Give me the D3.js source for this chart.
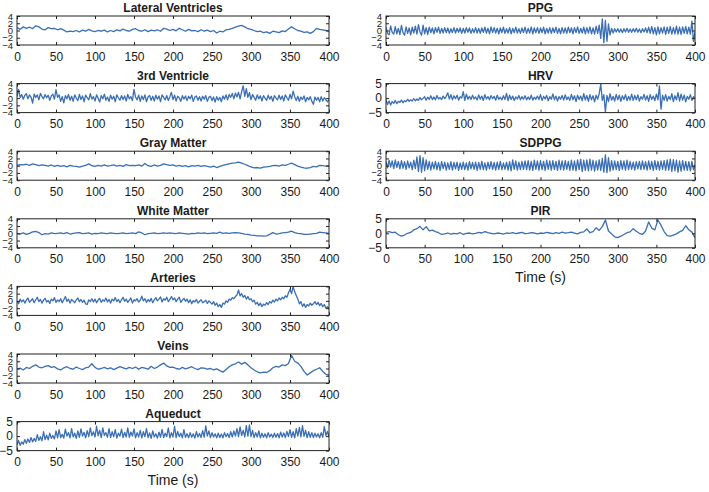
<!DOCTYPE html>
<html>
<head>
<meta charset="utf-8">
<script src="https://cdn.jsdelivr.net/npm/d3@7"></script>
<style>
  body { margin: 0; background: #fff; }
  svg text { font-family: "Liberation Sans", Arial, Helvetica, sans-serif; fill: #1a1a1a; }
</style>
</head>
<body>
<div id="chart"></div>
<script>
// x axis ticks shared by every panel
var xTicks = [0, 50, 100, 150, 200, 250, 300, 350, 400];
var yTicks4 = [-4, -2, 0, 2, 4];
var yTicks5 = [-5, 0, 5];

// ---- signals ----
// 101 samples (every 4 s)
var lateralVentricles = [0.8,0.3,1.0,0.6,0.9,0.5,1.3,1.0,0.4,0.2,
  0.8,0.5,0.6,0.2,0.5,0.1,-0.4,-0.2,-0.3,0.0,
  -0.4,0.1,-0.2,0.3,-0.1,-0.3,0.0,-0.2,0.1,-0.4,
  0.0,-0.3,0.2,-0.1,0.4,0.0,-0.2,0.3,0.5,0.0,
  -0.2,0.2,-0.3,0.1,-0.1,0.2,-0.2,0.6,0.4,0.0,
  0.3,-0.1,0.6,0.2,-0.2,0.3,-0.1,0.0,-0.3,0.2,
  -0.2,0.1,-0.3,0.0,-0.7,-0.2,-0.4,0.2,0.3,0.6,
  0.9,1.2,1.4,1.0,0.5,0.3,0.0,-0.3,-0.2,-0.6,
  -0.4,-0.8,-0.2,-0.4,-0.6,-0.1,-0.3,0.4,1.0,0.5,
  0.0,-0.2,-0.5,-0.4,-0.8,-0.3,0.6,0.3,0.2,0.0,
  -0.1];

// 201 samples (every 2 s)
var thirdVentricle = [0.5,2.4,0.2,1.0,-0.3,0.8,1.2,-0.2,0.9,0.3,
  -1.4,1.1,0.2,0.9,-0.5,1.3,0.4,-0.2,1.0,0.1,
  0.8,-0.6,0.6,1.1,-0.3,2.3,0.2,0.9,-0.9,0.4,
  -1.3,0.7,-0.2,1.0,-0.6,0.5,-0.9,0.9,0.0,-0.7,
  1.0,-0.4,0.6,-1.0,0.8,0.1,-0.5,1.2,-0.3,0.4,
  -0.8,0.9,0.0,-1.1,0.7,-0.2,1.1,-0.6,0.3,-0.9,
  0.8,-0.3,0.5,-1.0,0.9,0.1,-0.6,0.7,-0.4,0.6,
  -0.8,1.0,-0.2,0.4,-0.7,2.4,0.3,-0.5,0.8,-0.9,
  0.6,-0.4,0.9,-1.0,0.3,0.7,-0.6,0.5,-0.8,0.8,
  -0.3,0.6,-1.0,0.9,0.2,-0.5,0.7,-0.7,0.4,1.6,
  -0.4,0.8,-0.8,0.5,0.1,-0.9,0.7,-0.3,0.6,-0.7,
  0.5,-0.2,0.8,-0.9,0.3,0.6,-0.6,0.4,-0.8,0.5,
  -0.3,0.7,-0.9,0.2,0.5,-0.7,0.3,-1.1,0.4,-0.6,
  0.2,-1.0,0.6,-0.3,0.9,-0.5,1.0,0.2,1.3,-0.2,
  1.4,0.3,1.6,-0.2,1.8,3.4,0.5,2.6,0.2,1.5,
  -0.4,1.0,0.2,-0.6,0.9,-0.2,0.6,-0.8,0.7,0.0,
  -0.6,0.8,-0.3,0.5,-0.9,0.7,0.0,-0.5,0.8,-0.4,
  0.6,-0.8,0.9,0.1,-0.6,1.0,-0.2,1.9,0.4,-0.7,
  0.5,-0.9,0.3,-0.4,0.6,-1.0,0.2,-0.5,0.4,-0.9,
  -1.7,0.3,-0.6,0.2,-1.0,0.4,-0.8,0.1,-0.5,-1.0,
  -0.4];

var grayMatter = [0.1,0.3,0.2,0.4,0.1,0.5,0.3,0.0,0.2,0.1,
  -0.1,0.2,-0.2,0.1,-0.2,0.0,-0.3,0.1,-0.1,-0.2,
  -0.4,-0.1,0.1,0.5,0.0,-0.2,0.1,-0.1,0.2,-0.1,
  0.0,0.2,-0.1,0.1,-0.2,0.3,0.0,0.1,0.0,0.2,
  -0.1,0.6,0.0,-0.2,0.2,-0.1,0.1,0.5,0.3,0.1,
  0.2,-0.1,0.1,-0.2,0.0,-0.3,0.0,-0.1,0.1,-0.2,
  0.0,-0.2,-0.4,-0.1,-0.5,-0.2,0.1,0.3,0.5,0.7,
  0.8,1.0,0.7,0.4,0.0,-0.3,-0.6,-0.5,-0.7,-0.4,
  -0.3,-0.2,0.0,0.1,-0.1,0.2,0.1,0.4,0.7,0.3,
  -0.1,-0.4,-0.6,-0.7,-0.5,-0.2,-0.3,0.1,0.0,-0.1,
  0.0];

var whiteMatter = [0.0,-0.2,0.1,-0.3,0.0,0.4,0.5,0.2,-0.4,-0.1,
  -0.2,0.1,-0.1,0.0,0.1,-0.1,0.2,-0.2,0.0,0.1,
  0.2,-0.1,0.0,0.1,-0.2,0.0,-0.1,0.1,0.0,-0.1,
  0.1,0.0,-0.1,0.0,0.1,-0.1,0.0,0.1,-0.1,0.4,
  0.1,-0.4,-0.1,0.0,0.1,-0.1,0.0,0.1,0.0,0.1,
  0.0,-0.1,0.1,0.0,-0.1,-0.2,0.0,-0.1,0.1,0.0,
  0.1,-0.1,0.0,0.1,0.0,0.3,0.0,0.1,0.0,0.1,
  0.2,0.1,0.0,-0.2,-0.3,-0.5,-0.6,-0.7,-0.7,-0.8,
  -0.7,-0.3,0.2,-0.2,-0.1,0.1,0.2,0.3,0.6,0.2,
  0.0,-0.1,-0.3,-0.3,-0.2,-0.1,0.0,0.3,0.2,0.1,
  0.0];

var arteries = [0.0,-0.8,0.5,-0.3,0.3,-0.6,0.2,0.8,-0.4,0.1,
  0.6,-0.5,0.3,1.0,-0.2,0.4,-0.6,0.2,0.7,-0.3,
  0.1,-0.7,0.5,0.0,0.9,-0.4,0.3,-0.2,0.6,-0.5,
  0.3,1.2,-0.1,0.5,-0.6,0.4,0.0,-0.5,0.3,0.8,
  -0.2,0.4,-0.4,0.2,-0.8,-1.0,0.3,-0.2,0.6,-0.3,
  0.5,-0.5,0.2,0.7,-0.4,0.3,-0.1,0.8,-0.3,0.4,
  -0.6,0.5,0.0,0.9,-0.2,0.4,-0.5,0.3,1.0,-0.1,
  0.5,-0.4,0.2,0.8,-0.6,0.3,0.0,0.6,-0.3,0.2,
  1.3,0.0,0.6,-0.4,0.4,-0.2,0.7,-0.5,0.3,0.9,
  0.0,0.5,1.1,-0.3,0.6,0.2,1.0,-0.2,0.4,1.2,
  0.3,0.8,-0.2,0.5,1.0,-0.4,0.2,0.7,-0.1,0.5,
  -0.5,0.3,-0.8,0.1,-0.3,0.4,-0.6,-0.1,0.3,-0.5,
  -0.2,0.2,-0.7,0.0,-0.4,-0.9,-0.2,-1.2,-0.6,-1.6,
  -1.0,-1.8,-0.6,-0.9,0.0,-0.4,0.5,0.2,0.9,0.6,
  1.2,1.6,3.0,1.4,2.0,1.0,1.5,0.5,1.2,0.3,
  0.6,-0.2,0.2,-0.9,-0.4,-1.3,-0.6,-1.6,-0.9,-1.2,
  -0.5,-1.0,-0.2,-0.6,0.2,-0.3,0.5,0.0,0.8,0.3,
  1.0,0.6,1.4,1.0,2.2,3.2,2.0,4.0,2.5,1.5,
  0.5,-0.8,-0.2,-1.5,-0.8,-1.8,-1.0,-1.4,-0.6,-1.2,
  -0.8,-0.2,-1.0,-0.4,-1.3,-0.7,-1.6,-1.0,-2.0,-1.6,
  -2.2];

var veins = [-0.2,0.1,-0.4,0.3,0.0,0.6,1.0,0.4,0.2,0.6,
  0.8,0.3,0.5,-0.1,-0.4,0.2,0.5,0.0,-0.2,0.4,
  0.0,-0.3,0.2,0.4,1.3,0.3,-0.2,0.0,0.3,-0.1,
  0.2,-0.3,0.1,0.5,0.2,-0.1,0.3,0.0,0.4,-0.2,
  0.3,0.1,-0.2,0.6,0.0,0.4,1.0,1.5,0.7,0.3,
  0.4,0.0,-0.2,0.3,-0.1,0.2,0.5,0.0,-0.3,0.2,
  0.1,-0.2,0.0,-0.4,-0.1,-0.6,-1.0,-0.3,0.5,1.0,
  1.3,1.8,1.2,1.7,1.0,0.2,-0.4,-0.9,-1.2,-1.0,
  -1.1,-0.6,0.2,0.6,0.4,1.0,0.8,1.4,3.6,2.0,
  1.5,0.6,-0.8,-1.8,-1.2,-0.6,-0.2,0.2,-0.8,-1.6,
  -1.8];

var aqueduct = [-3.0,-1.5,-3.2,-2.0,-2.8,-1.2,-2.5,-1.0,-2.2,-0.5,
  -2.0,-0.8,-1.8,0.5,-1.5,-0.2,-1.6,1.5,-1.2,0.3,
  -1.3,1.0,-0.8,0.2,-1.0,1.8,-0.6,2.2,-0.5,0.6,
  -0.7,2.4,0.0,1.2,-0.6,2.6,-0.3,1.0,-0.8,1.8,
  -0.4,2.5,0.0,1.3,-0.6,1.9,-0.2,2.8,0.2,1.5,
  -0.3,3.4,0.1,2.0,-0.5,2.8,0.2,1.2,-0.4,2.6,
  -0.5,1.5,-0.2,2.2,-0.7,1.0,0.0,2.4,-0.5,1.3,
  -0.3,2.8,-0.4,1.4,0.0,2.5,-0.6,1.2,-0.3,2.0,
  -0.6,1.5,-0.2,2.6,-0.5,1.1,-0.8,1.8,-0.3,0.8,
  -0.7,1.4,-0.4,2.3,-0.5,1.0,-0.2,2.8,-0.6,1.2,
  -0.3,3.4,-0.5,1.6,-0.2,1.0,-0.6,2.2,-0.4,0.8,
  -0.6,1.2,-0.4,0.8,-0.7,1.5,-0.3,0.9,-0.5,1.9,
  -0.4,3.5,0.0,1.8,-0.5,1.2,-0.3,0.8,-0.6,1.0,
  -0.5,0.7,-0.6,1.2,-0.2,0.9,-0.5,1.5,-0.3,1.8,
  0.0,2.6,-0.2,3.2,0.2,2.0,-0.3,3.6,0.0,3.9,
  -0.2,2.0,-0.5,1.2,-0.3,1.8,-0.6,1.0,-0.4,0.8,
  -0.6,1.2,-0.3,0.7,-0.5,1.0,-0.4,0.9,-0.6,1.4,
  -0.3,1.1,-0.5,1.6,-0.2,2.2,-0.4,1.5,-0.6,2.6,
  0.0,3.0,-0.3,3.6,-0.1,2.0,-0.5,1.5,-0.4,1.2,
  -0.5,1.0,-0.3,0.8,-0.6,1.2,-0.4,3.3,0.2,1.6,
  -0.3];

var ppg = [0.9,-0.8,-1.2,1.3,-0.5,-1.0,1.1,-0.9,0.6,-1.1,
  1.4,-0.6,-1.3,1.0,-0.8,0.7,-1.2,0.9,-0.7,1.2,
  -1.0,1.6,-0.4,-1.3,1.5,-0.9,0.8,-1.1,0.9,-0.6,
  0.7,-0.9,0.8,-0.5,0.9,-0.8,0.6,-0.7,0.8,-0.6,
  0.7,-0.8,0.5,-0.6,0.8,-0.7,0.6,-0.5,0.7,-0.8,
  0.6,-0.7,0.8,-0.5,0.7,-0.8,0.5,-0.6,0.8,-0.7,
  0.6,-0.8,0.7,-0.5,0.9,-0.7,0.6,-0.9,1.0,-0.6,
  0.8,-0.7,0.6,-0.9,0.7,-0.6,0.9,-0.8,0.5,-0.7,
  0.8,-0.9,0.6,-0.6,0.9,-0.7,0.5,-0.8,0.7,-0.6,
  0.9,-0.8,0.6,-0.7,1.0,-0.9,0.7,-0.6,0.8,-0.8,
  0.7,-0.6,0.9,-0.9,0.6,-0.7,0.8,-0.8,0.7,-0.6,
  0.9,-0.8,0.6,-0.9,0.8,-0.7,0.7,-0.8,0.9,-0.6,
  0.7,-0.9,0.8,-0.6,1.0,-0.8,0.6,-0.7,0.9,-0.9,
  0.8,-0.7,1.0,-0.9,0.7,-1.0,1.2,-0.8,1.5,-2.2,
  3.2,-3.4,2.8,-3.0,1.8,-1.2,0.6,-0.7,0.5,-0.4,
  0.5,-0.5,0.4,-0.6,0.5,-0.4,0.6,-0.5,0.4,-0.5,
  0.5,-0.4,0.6,-0.5,0.4,-0.6,0.5,-0.4,0.7,-0.6,
  0.9,-0.8,1.1,-0.9,0.8,-1.2,1.0,-0.9,0.8,-0.7,
  1.0,-1.1,0.9,-0.8,1.1,-1.0,0.8,-0.9,1.2,-1.0,
  0.9,-1.1,1.0,-0.8,1.1,-0.9,0.9,-1.0,2.6,-3.0,
  -0.5];

var hrv = [-0.5,-2.2,-1.0,-2.4,-1.2,-1.8,-0.8,-1.9,-1.1,-1.5,
  -0.7,-1.6,-0.9,-1.2,-0.4,-1.1,-0.6,-1.0,-0.2,-0.9,
  -0.3,-0.8,0.2,-0.6,-0.1,0.5,-0.7,0.3,-0.4,0.8,
  -0.5,0.4,-0.6,0.9,-0.3,0.2,-0.5,0.7,-0.2,0.6,
  1.8,-0.3,1.2,-0.6,0.8,-0.2,1.0,-0.7,0.5,0.0,
  2.2,-0.8,1.4,-0.4,0.6,-0.5,1.0,-0.3,0.4,-0.6,
  1.1,-0.4,0.7,-0.8,1.2,-0.3,0.5,-0.6,0.9,-0.2,
  0.6,-0.7,1.0,-0.4,0.3,-0.6,0.8,-0.5,1.6,-0.9,
  1.0,-0.5,0.7,-0.8,0.4,-0.3,0.9,-0.6,0.5,-0.4,
  0.8,-0.6,0.4,-0.5,1.0,-0.7,0.3,-0.4,0.7,-0.5,
  1.2,-0.8,0.6,-0.3,0.9,-0.9,0.5,-0.4,1.4,-0.6,
  0.7,-1.0,0.5,-0.4,0.9,-0.7,1.1,-0.5,0.4,-0.8,
  1.3,-0.6,0.8,-1.2,1.0,-0.5,0.7,-0.9,1.5,-0.7,
  0.9,-1.1,1.2,-0.6,0.8,-1.3,1.0,-0.4,1.6,4.8,
  -0.8,1.2,-4.8,0.9,-1.2,1.5,-0.7,0.6,-1.0,1.3,
  -0.6,1.0,-1.1,0.8,-0.5,1.2,-0.9,0.6,-0.7,1.4,
  -0.8,0.9,-0.6,1.1,-1.0,0.5,-0.4,1.3,-0.7,0.8,
  -1.1,1.2,-0.5,0.7,-0.9,1.4,-0.6,4.2,-3.8,1.0,
  -0.8,1.2,-1.0,0.6,-0.5,1.5,-1.2,0.8,-0.6,1.9,
  -1.0,1.4,-0.7,1.0,-1.3,0.6,-0.4,1.2,-0.8,0.5,
  -0.3];

var sdppg = [1.2,-0.6,1.5,-0.4,1.3,-0.8,1.6,-0.5,1.2,-0.9,
  1.4,-0.7,1.1,-1.0,1.3,-0.6,1.0,-1.1,1.5,-0.8,
  2.4,-1.6,2.8,-1.8,2.2,-1.4,1.6,-1.0,1.2,-1.2,
  1.0,-0.9,1.2,-1.1,0.9,-1.3,1.1,-0.8,1.0,-1.2,
  0.8,-1.0,1.1,-1.2,0.9,-0.9,1.0,-1.3,0.8,-1.0,
  1.0,-1.1,0.8,-1.2,1.1,-0.9,0.9,-1.0,1.0,-1.3,
  0.9,-1.0,1.2,-1.1,0.8,-1.2,1.0,-0.9,1.1,-1.0,
  0.9,-1.2,1.0,-1.0,1.2,-1.1,0.8,-1.0,1.0,-1.2,
  1.1,-1.4,1.6,-1.0,1.3,-1.2,1.0,-1.1,1.2,-1.0,
  1.3,-1.1,1.4,-1.2,1.2,-1.3,1.5,-1.0,1.3,-1.2,
  1.4,-1.1,1.2,-1.3,1.5,-1.0,1.3,-1.2,1.4,-1.1,
  1.2,-1.3,1.5,-1.1,1.3,-1.2,1.4,-1.0,1.2,-1.3,
  1.5,-1.2,1.3,-1.4,1.6,-1.1,1.8,-1.6,1.5,-1.3,
  1.6,-1.4,1.8,-1.2,1.5,-1.5,1.3,-1.2,1.6,-1.3,
  2.0,-1.8,3.0,-1.9,2.2,-1.5,1.4,-1.2,1.3,-1.1,
  1.2,-1.3,1.4,-1.0,1.3,-1.2,1.5,-1.1,1.2,-1.0,
  1.0,-1.2,1.1,-0.9,1.2,-1.1,1.3,-1.0,1.1,-1.2,
  1.3,-1.0,1.2,-1.3,1.4,-1.1,1.2,-1.2,1.3,-1.0,
  1.4,-1.3,1.6,-1.2,1.8,-1.6,1.7,-1.4,1.5,-1.8,
  1.3,-1.5,1.4,-1.2,1.2,-1.3,1.1,-1.4,1.2,-1.1,
  0.3];

var pir = [0.3,0.6,0.2,0.4,-0.5,-1.0,-0.6,0.0,0.3,1.2,
  1.6,2.4,1.2,2.3,0.8,1.1,0.6,0.2,-0.4,-0.2,
  0.1,-0.3,0.0,-0.2,0.2,-0.4,0.0,0.1,-0.2,0.0,
  0.3,0.1,0.6,0.2,0.0,-0.2,0.1,0.0,-0.3,0.1,
  0.0,0.2,-0.1,0.1,0.3,-0.1,0.0,0.2,0.1,-0.2,
  0.1,0.0,0.3,0.1,-0.1,0.2,0.0,0.4,0.1,0.2,
  0.4,0.1,-0.2,0.3,0.5,1.5,0.2,0.6,1.9,1.0,
  2.3,4.6,0.8,-0.2,-1.2,-1.5,-1.0,-0.4,0.2,0.5,
  1.6,0.7,0.0,-0.4,0.8,3.9,1.8,1.2,4.6,2.8,
  0.6,-0.8,-1.0,-0.6,-0.2,0.5,1.0,2.6,1.2,0.4,
  -1.5];

// sample times in seconds for a series spanning 0..400 s
function sampleTimes(n) {
  return d3.range(n).map(function(i) { return i * 400 / (n - 1); });
}

var panels = [
  {title: "Lateral Ventricles", values: lateralVentricles, ticks: yTicks4, col: 0, row: 0},
  {title: "3rd Ventricle", values: thirdVentricle, ticks: yTicks4, col: 0, row: 1},
  {title: "Gray Matter", values: grayMatter, ticks: yTicks4, col: 0, row: 2},
  {title: "White Matter", values: whiteMatter, ticks: yTicks4, col: 0, row: 3},
  {title: "Arteries", values: arteries, ticks: yTicks4, col: 0, row: 4},
  {title: "Veins", values: veins, ticks: yTicks4, col: 0, row: 5},
  {title: "Aqueduct", values: aqueduct, ticks: yTicks5, col: 0, row: 6, xlabel: true},
  {title: "PPG", values: ppg, ticks: yTicks4, col: 1, row: 0},
  {title: "HRV", values: hrv, ticks: yTicks5, col: 1, row: 1},
  {title: "SDPPG", values: sdppg, ticks: yTicks4, col: 1, row: 2},
  {title: "PIR", values: pir, ticks: yTicks5, col: 1, row: 3, xlabel: true}
];

var W = 709, H = 492;
var colLeft = [17, 386], colRight = [329, 695];
var rowTop = 16, rowStep = 67.6, boxH = 29;
var lineColor = "#3a6fb5";

var svg = d3.select("#chart").append("svg")
  .attr("width", W)
  .attr("height", H);

panels.forEach(function(p) {
  var x0 = colLeft[p.col], x1 = colRight[p.col];
  var top = rowTop + p.row * rowStep;
  var w = x1 - x0, h = boxH;
  var yMax = d3.max(p.ticks);

  var g = svg.append("g").attr("transform", "translate(" + x0 + "," + top + ")");

  var x = d3.scaleLinear().domain([0, 400]).range([0, w]);
  var y = d3.scaleLinear().domain([-yMax, yMax]).range([h, 0]);

  // the trace
  var times = sampleTimes(p.values.length);
  var line = d3.line()
    .x(function(d, i) { return x(times[i]); })
    .y(function(d) { return y(d); });

  g.append("defs").append("clipPath").attr("id", "clip" + p.col + p.row)
    .append("rect").attr("width", w).attr("height", h);

  g.append("path")
    .datum(p.values)
    .attr("clip-path", "url(#clip" + p.col + p.row + ")")
    .attr("fill", "none")
    .attr("stroke", lineColor)
    .attr("stroke-width", 1.3)
    .attr("stroke-linejoin", "round")
    .attr("d", line);

  // axes, ticks pointing inward (matlab style)
  var bottom = g.append("g").attr("transform", "translate(0," + h + ")")
    .call(d3.axisBottom(x).tickValues(xTicks).tickSizeInner(-3).tickSizeOuter(0).tickPadding(7));
  bottom.selectAll("text").attr("font-size", 12);

  g.append("g")
    .call(d3.axisTop(x).tickValues(xTicks).tickSizeInner(-3).tickSizeOuter(0).tickFormat(""));

  // matlab squeezes the y labels together on these short axes
  var left = g.append("g")
    .call(d3.axisLeft(y).tickValues(p.ticks).tickSizeInner(-3).tickSizeOuter(0).tickPadding(4));
  left.selectAll("text").attr("font-size", p.ticks.length > 3 ? 9.5 : 12);

  g.append("g").attr("transform", "translate(" + w + ",0)")
    .call(d3.axisRight(y).tickValues(p.ticks).tickSizeInner(-3).tickSizeOuter(0).tickFormat(""));

  g.selectAll(".domain").remove();
  g.selectAll(".tick line").attr("stroke", "#222");

  g.append("rect")
    .attr("width", w).attr("height", h)
    .attr("fill", "none")
    .attr("stroke", "#222")
    .attr("stroke-width", 1);

  g.append("text")
    .attr("x", w / 2).attr("y", -4)
    .attr("text-anchor", "middle")
    .attr("font-size", 12)
    .attr("font-weight", "bold")
    .text(p.title);

  if (p.xlabel) {
    g.append("text")
      .attr("x", w / 2).attr("y", h + 34)
      .attr("text-anchor", "middle")
      .attr("font-size", 14)
      .text("Time (s)");
  }
});
</script>
</body>
</html>
